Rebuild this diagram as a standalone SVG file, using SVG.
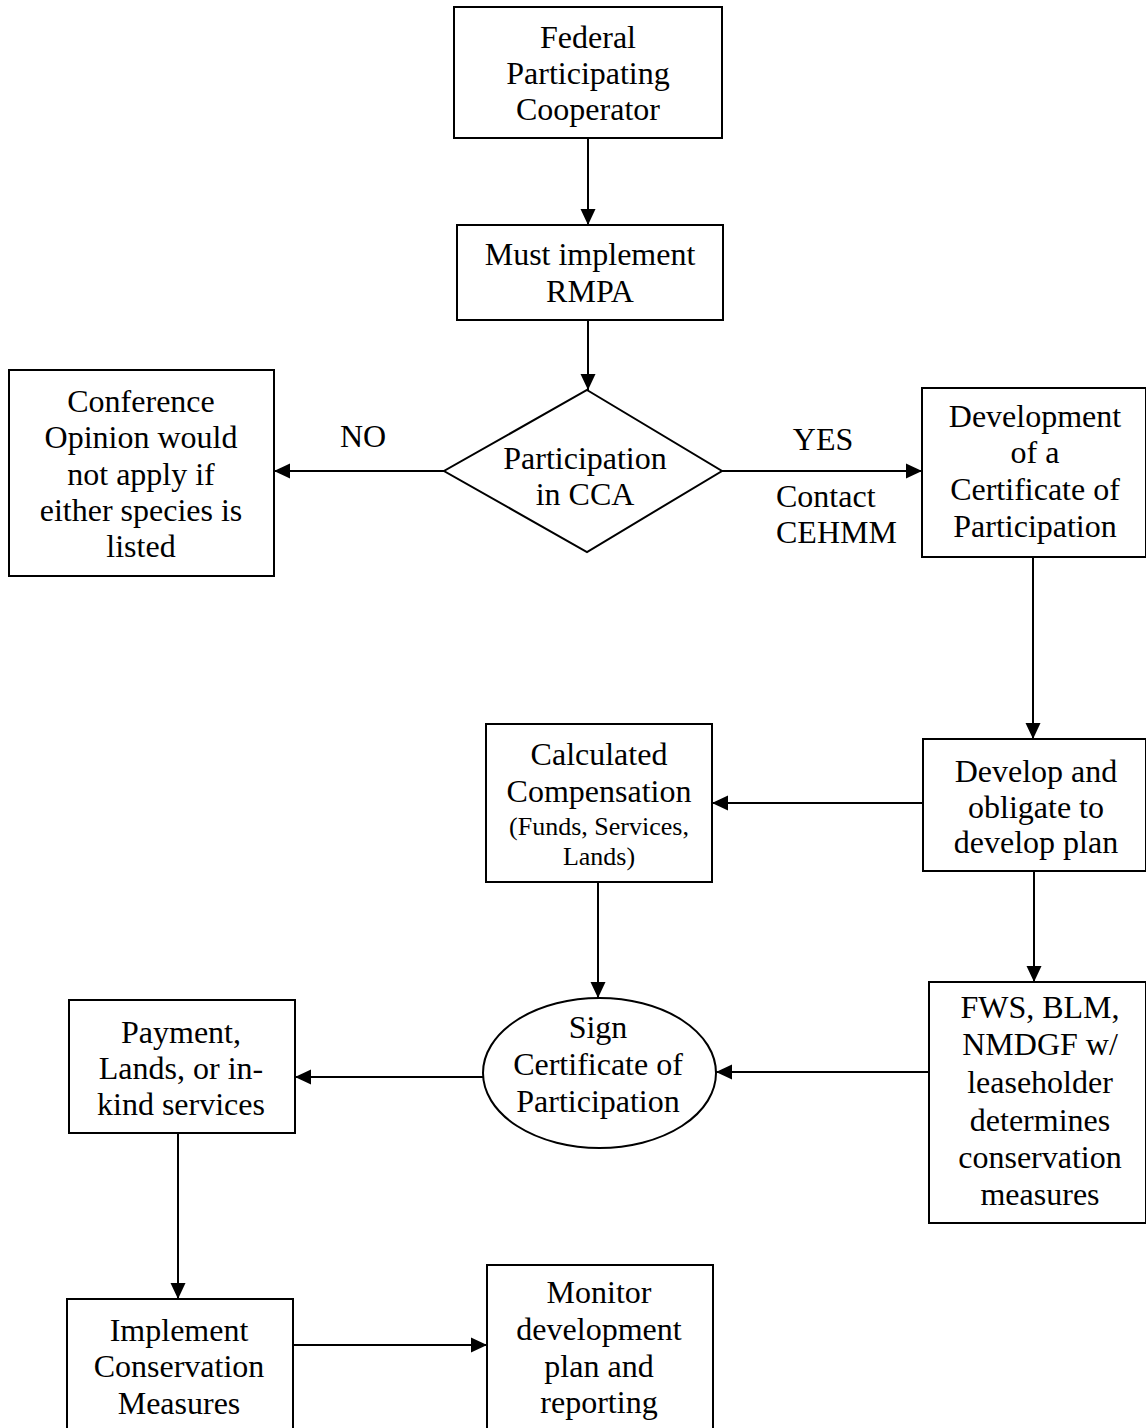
<svg xmlns="http://www.w3.org/2000/svg" width="1146" height="1428" viewBox="0 0 1146 1428">
<defs>
<marker id="arr" viewBox="0 0 16 16" refX="16" refY="8" markerWidth="16" markerHeight="16" markerUnits="userSpaceOnUse" orient="auto">
<path d="M0,0.5 L16,8 L0,15.5 z" fill="#000"/>
</marker>
</defs>
<style>
.n{fill:#fff;stroke:#000;stroke-width:2}
.t{font-family:"Liberation Serif","Times New Roman",serif;font-size:32px;fill:#000;text-anchor:middle}
.s{font-size:26px}
.l{text-anchor:start}
.c{stroke:#000;stroke-width:2;fill:none;marker-end:url(#arr)}
</style>
<rect width="1146" height="1428" fill="#fff"/>
<g id="connectors">
<line class="c" x1="588" y1="138" x2="588" y2="225"/>
<line class="c" x1="588" y1="320" x2="588" y2="390"/>
<line class="c" x1="444" y1="471" x2="274" y2="471"/>
<line class="c" x1="722" y1="471" x2="922" y2="471"/>
<line class="c" x1="1033" y1="557" x2="1033" y2="739"/>
<line class="c" x1="923" y1="803" x2="712" y2="803"/>
<line class="c" x1="1034" y1="871" x2="1034" y2="982"/>
<line class="c" x1="598" y1="882" x2="598" y2="998"/>
<line class="c" x1="929" y1="1072" x2="716" y2="1072"/>
<line class="c" x1="483" y1="1077" x2="295" y2="1077"/>
<line class="c" x1="178" y1="1133" x2="178" y2="1299"/>
<line class="c" x1="293" y1="1345" x2="487" y2="1345"/>
<text class="t" x="363" y="447">NO</text>
<text class="t" x="823" y="450">YES</text>
<text class="t l" x="776" y="507">Contact</text>
<text class="t l" x="776" y="543">CEHMM</text>
</g>
<g id="federal">
<rect class="n" x="454" y="7" width="268" height="131"/>
<text class="t" x="588" y="48">Federal</text>
<text class="t" x="588" y="84">Participating</text>
<text class="t" x="588" y="120">Cooperator</text>
</g>
<g id="rmpa">
<rect class="n" x="457" y="225" width="266" height="95"/>
<text class="t" x="590" y="265">Must implement</text>
<text class="t" x="590" y="302">RMPA</text>
</g>
<g id="cca">
<polygon class="n" points="587,390 722,471 587,552 444,471"/>
<text class="t" x="585" y="469">Participation</text>
<text class="t" x="585" y="505">in CCA</text>
</g>
<g id="conference">
<rect class="n" x="9" y="370" width="265" height="206"/>
<text class="t" x="141" y="412">Conference</text>
<text class="t" x="141" y="448">Opinion would</text>
<text class="t" x="141" y="485">not apply if</text>
<text class="t" x="141" y="521">either species is</text>
<text class="t" x="141" y="557">listed</text>
</g>
<g id="certificate">
<rect class="n" x="922" y="388" width="224" height="169"/>
<text class="t" x="1035" y="427">Development</text>
<text class="t" x="1035" y="463">of a</text>
<text class="t" x="1035" y="500">Certificate of</text>
<text class="t" x="1035" y="537">Participation</text>
</g>
<g id="develop">
<rect class="n" x="923" y="739" width="223" height="132"/>
<text class="t" x="1036" y="782">Develop and</text>
<text class="t" x="1036" y="818">obligate to</text>
<text class="t" x="1036" y="853">develop plan</text>
</g>
<g id="compensation">
<rect class="n" x="486" y="724" width="226" height="158"/>
<text class="t" x="599" y="765">Calculated</text>
<text class="t" x="599" y="802">Compensation</text>
<text class="t s" x="599" y="835">(Funds, Services,</text>
<text class="t s" x="599" y="865">Lands)</text>
</g>
<g id="fws">
<rect class="n" x="929" y="982" width="217" height="241"/>
<text class="t" x="1040" y="1018">FWS, BLM,</text>
<text class="t" x="1040" y="1055">NMDGF w/</text>
<text class="t" x="1040" y="1093">leaseholder</text>
<text class="t" x="1040" y="1131">determines</text>
<text class="t" x="1040" y="1168">conservation</text>
<text class="t" x="1040" y="1205">measures</text>
</g>
<g id="sign">
<ellipse class="n" cx="599.5" cy="1073" rx="116.5" ry="75"/>
<text class="t" x="598" y="1038">Sign</text>
<text class="t" x="598" y="1075">Certificate of</text>
<text class="t" x="598" y="1112">Participation</text>
</g>
<g id="payment">
<rect class="n" x="69" y="1000" width="226" height="133"/>
<text class="t" x="181" y="1043">Payment,</text>
<text class="t" x="181" y="1079">Lands, or in-</text>
<text class="t" x="181" y="1115">kind services</text>
</g>
<g id="implement">
<rect class="n" x="67" y="1299" width="226" height="140"/>
<text class="t" x="179" y="1341">Implement</text>
<text class="t" x="179" y="1377">Conservation</text>
<text class="t" x="179" y="1414">Measures</text>
</g>
<g id="monitor">
<rect class="n" x="487" y="1265" width="226" height="175"/>
<text class="t" x="599" y="1303">Monitor</text>
<text class="t" x="599" y="1340">development</text>
<text class="t" x="599" y="1377">plan and</text>
<text class="t" x="599" y="1413">reporting</text>
</g>
</svg>
